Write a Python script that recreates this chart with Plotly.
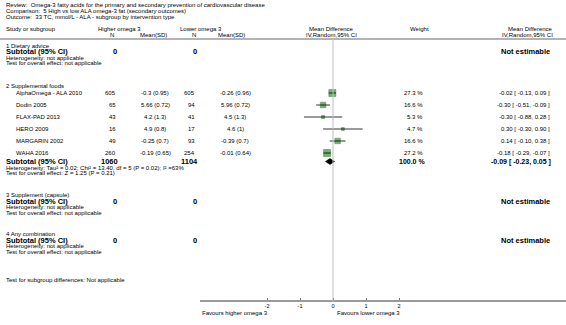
import plotly.graph_objects as go

# ---------------- data ----------------
studies = ["AlphaOmega - ALA 2010", "Dodin 2005", "FLAX-PAD 2013", "HERO 2009", "MARGARIN 2002", "WAHA 2016"]
n_high = [605, 65, 43, 16, 49, 260]
sd_high = ["-0.3 (0.95)", "5.66 (0.72)", "4.2 (1.3)", "4.9 (0.8)", "-0.25 (0.7)", "-0.19 (0.65)"]
n_low = [605, 94, 41, 17, 93, 254]
sd_low = ["-0.26 (0.96)", "5.96 (0.72)", "4.5 (1.3)", "4.6 (1)", "-0.39 (0.7)", "-0.01 (0.64)"]
weights = [27.3, 16.6, 5.3, 4.7, 16.6, 27.2]
md = [-0.02, -0.30, -0.30, 0.30, 0.14, -0.18]
ci_lo = [-0.13, -0.51, -0.88, -0.30, -0.10, -0.29]
ci_hi = [0.09, -0.09, 0.28, 0.90, 0.38, -0.07]
ci_text = ["-0.02 [ -0.13, 0.09 ]", "-0.30 [ -0.51, -0.09 ]", "-0.30 [ -0.88, 0.28 ]",
           "0.30 [ -0.30, 0.90 ]", "0.14 [ -0.10, 0.38 ]", "-0.18 [ -0.29, -0.07 ]"]
sub_md, sub_lo, sub_hi = -0.09, -0.23, 0.05
sub_weight = 100.0
sub_n_high, sub_n_low = 1060, 1104
tick_vals = [-2, -1, 0, 1, 2]
tick_text = ["-2", "-1", "0", "1", "2"]

# ---------------- layout helpers ----------------
W, H = 566, 325
X0PX, PXU = 333, 33.0  # pixel of zero, pixels per unit
AX_LEFT = 200
FONT = "Liberation Sans, Arial, sans-serif"

anns = []
def t(x, y, s, anchor="left", size=6, bold=False):
    if bold:
        s = "<b>" + s + "</b>"
    anns.append(dict(x=x / W, xref="paper", y=y, yref="y", text=s, showarrow=False,
                     xanchor=anchor, yanchor="middle", font=dict(family=FONT, size=size, color="black")))

L = 4
IND = 14
C_NH, C_MH, C_NL, C_ML = 118, 155, 197, 235
C_W, C_CI = 425, 552

t(L, 5, "Review:\u00a0 Omega-3 fatty acids for the primary and secondary prevention of cardiovascular disease")
t(L, 11, "Comparison:\u00a0 5 High vs low ALA omega-3 fat (secondary outcomes)")
t(L, 17, "Outcome:\u00a0 33 TC, mmol/L - ALA - subgroup by intervention type")

HY1, HY2 = 28.5, 34.5
t(L, HY1, "Study or subgroup")
t(96, HY1, "Higher omega 3")
t(112, HY2, "N", "center")
t(153, HY2, "Mean(SD)", "center")
t(178, HY1, "Lower omega 3")
t(194, HY2, "N", "center")
t(231, HY2, "Mean(SD)", "center")
t(331, HY1, "Mean Difference", "center")
t(331, HY2, "IV,Random,95% CI", "center")
t(419, HY1, "Weight", "center")
t(555, HY1, "Mean Difference", "right")
t(555, HY2, "IV,Random,95% CI", "right")

def empty_group(y, title):
    t(L, y, title)
    t(L, y + 6, "Subtotal (95% CI)", size=7.5, bold=True)
    t(C_NH + 1, y + 6, "0", "right", 7.5, True)
    t(C_NL + 2, y + 6, "0", "right", 7.5, True)
    t(C_CI, y + 6, "Not estimable", "right", 7.5, True)
    t(L, y + 12, "Heterogeneity: not applicable")
    t(L, y + 17.5, "Test for overall effect: not applicable")

empty_group(45.5, "1 Dietary advice")

t(L, 86, "2 Supplemental foods")
row_y = [93 + 12 * i for i in range(len(studies))]
for i, s in enumerate(studies):
    y = row_y[i]
    t(IND, y, s)
    t(C_NH, y, str(n_high[i]), "right")
    t(C_MH, y, sd_high[i], "center")
    t(C_NL, y, str(n_low[i]), "right")
    t(C_ML, y, sd_low[i], "center")
    t(C_W, y, f"{weights[i]:.1f} %", "right")
    t(C_CI, y, ci_text[i], "right")
sub_y = 161.5
t(L, sub_y, "Subtotal (95% CI)", size=7.5, bold=True)
t(C_NH + 2, sub_y, str(sub_n_high), "right", 7.5, True)
t(C_NL + 3, sub_y, str(sub_n_low), "right", 7.5, True)
t(C_W + 2, sub_y, f"{sub_weight:.1f} %", "right", 7, True)
t(C_CI + 1, sub_y, f"{sub_md:.2f} [ {sub_lo:.2f}, {sub_hi:.2f} ]", "right", 7, True)
t(L, 167.5, "Heterogeneity: Tau\u00b2 = 0.02; Chi\u00b2 = 13.40, df = 5 (P = 0.02); I\u00b2 =63%")
t(L, 173, "Test for overall effect: Z = 1.25 (P = 0.21)")

empty_group(195, "3 Supplement (capsule)")
empty_group(234, "4 Any combination")

t(L, 280, "Test for subgroup differences: Not applicable")
t(200, 312.5, "Favours higher omega 3")
t(335, 312.5, "Favours lower omega 3")

# ---------------- traces ----------------
fig = go.Figure()
sizes = [7 * (w / 27.3) ** 0.5 for w in weights]
fig.add_trace(go.Scatter(x=md, y=row_y, mode="markers",
                         marker=dict(symbol="square", size=sizes, color="#2f962f",
                                     line=dict(color="#1f5f1f", width=0.6)),
                         hoverinfo="skip", showlegend=False))
cx, cy = [], []
for lo, hi, y in zip(ci_lo, ci_hi, row_y):
    cx += [lo, hi, None]
    cy += [y, y, None]
fig.add_trace(go.Scatter(x=cx, y=cy, mode="lines", line=dict(color="black", width=0.8),
                         hoverinfo="skip", showlegend=False))
fig.add_trace(go.Scatter(x=[sub_lo, sub_md, sub_hi, sub_md, sub_lo],
                         y=[sub_y, sub_y - 3, sub_y, sub_y + 3, sub_y],
                         mode="lines", fill="toself", fillcolor="black",
                         line=dict(color="black", width=0.5), hoverinfo="skip", showlegend=False))

AXIS_Y = 301
LINE_Y = 39
shapes = [
    dict(type="line", xref="paper", yref="y", x0=0, x1=1, y0=LINE_Y, y1=LINE_Y,
         line=dict(color="#9a9a9a", width=1.5)),
    dict(type="line", xref="x", yref="y", x0=0, x1=0, y0=LINE_Y, y1=AXIS_Y,
         line=dict(color="#bdbdbd", width=1)),
]

x_min = (AX_LEFT - X0PX) / PXU
x_max = (W - X0PX) / PXU
fig.update_layout(
    width=W, height=H, margin=dict(l=0, r=0, t=0, b=0),
    paper_bgcolor="white", plot_bgcolor="white",
    annotations=anns, shapes=shapes,
    xaxis=dict(domain=[AX_LEFT / W, 1], range=[x_min, x_max], anchor="free",
               position=1 - AXIS_Y / H, showline=True, linecolor="#9a9a9a", linewidth=1.5,
               tickvals=tick_vals, ticktext=tick_text, ticks="inside", ticklen=2,
               tickcolor="#777", tickfont=dict(family=FONT, size=5.5, color="black"),
               showgrid=False, zeroline=False, fixedrange=True),
    yaxis=dict(domain=[0, 1], range=[H, 0], visible=False, fixedrange=True),
)
fig.write_html("out.html")
